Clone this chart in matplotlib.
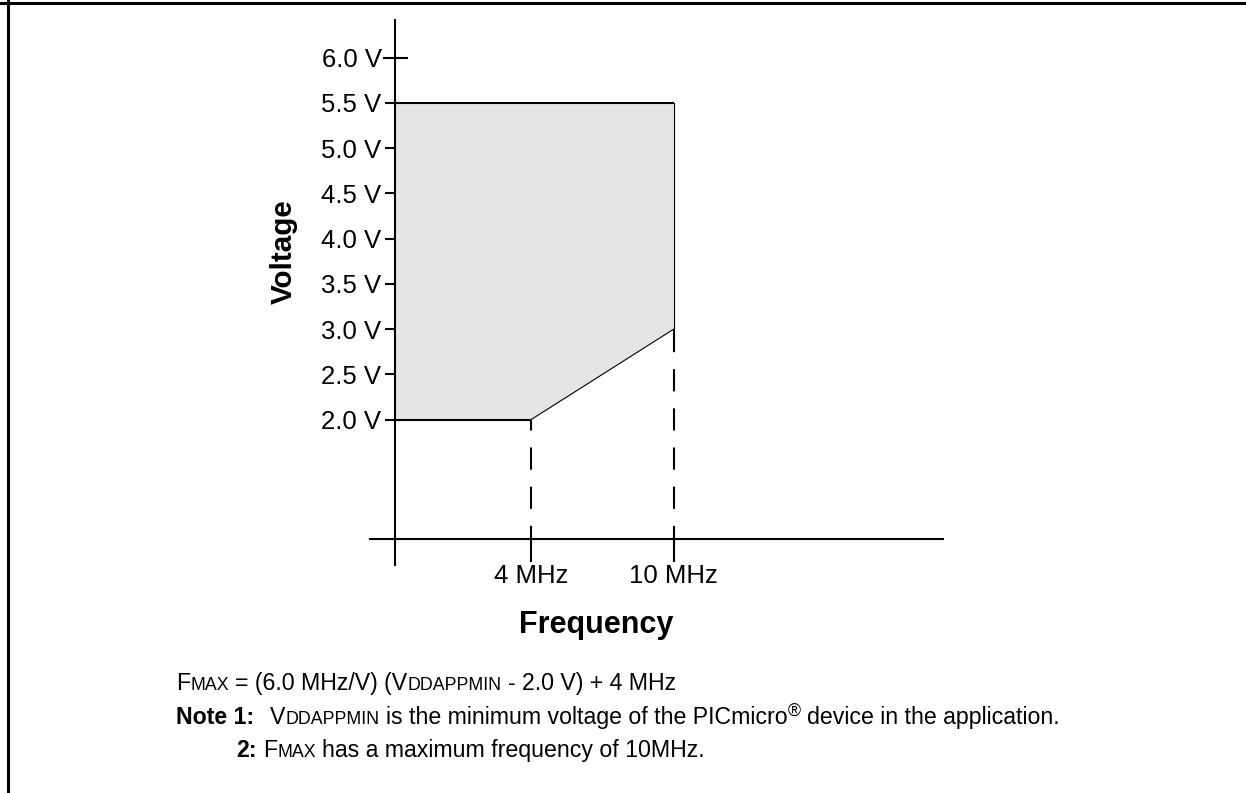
import matplotlib
matplotlib.use('Agg')
import matplotlib.pyplot as plt
from matplotlib.lines import Line2D

plt.rcParams['font.family'] = ['Liberation Sans', 'DejaVu Sans']
plt.rcParams['lines.scale_dashes'] = False

# DATA
freq_corners = [4, 10]          # MHz
vdd_min = [2.0, 3.0]            # lower edge of the operating area at those freqs
vdd_max = 5.5
volt_ticks = [2.0, 2.5, 3.0, 3.5, 4.0, 4.5, 5.0, 5.5]
volt_top_tick = 6.0
freq_labels = ['4 MHz', '10 MHz']

# layout (schematic chart, axes don't cross at 0)
W, H = 1246, 793
yax_x = -1.72       # freq where the voltage axis sits
xax_y = 0.676       # voltage where the freq axis sits

fig = plt.figure(figsize=(W / 100, H / 100), dpi=100)
ax = fig.add_axes([0, 0, 1, 1])
ax.set_xlim(-18.33, 34.07)
ax.set_ylim(-2.126, 6.638)
ax.patch.set_visible(False)

# operating area
poly_x = [yax_x, freq_corners[0], freq_corners[1], freq_corners[1], yax_x]
poly_y = [vdd_min[0], vdd_min[0], vdd_min[1], vdd_max, vdd_max]
ax.fill(poly_x, poly_y, color='#e5e5e5', lw=0, zorder=1)
ax.plot([yax_x, freq_corners[1]], [vdd_max, vdd_max], color='k', lw=1.5, solid_capstyle='butt')
ax.plot([yax_x, freq_corners[0]], [vdd_min[0], vdd_min[0]], color='k', lw=1.5, solid_capstyle='butt')
ax.plot(freq_corners, vdd_min, color='k', lw=0.8)
ax.plot([freq_corners[1], freq_corners[1]], [vdd_min[1], vdd_max], color='k', lw=0.8)
ax.vlines(freq_corners, xax_y, vdd_min, colors='k', lw=1.5, linestyles=[(6.5, (16, 12.2))])

# axes
for s in ['top', 'right']:
    ax.spines[s].set_visible(False)
ax.spines['left'].set_position(('data', yax_x))
ax.spines['left'].set_bounds(0.394, 6.417)
ax.spines['bottom'].set_position(('data', xax_y))
ax.spines['bottom'].set_bounds(-2.77, 21.33)
for s in ['left', 'bottom']:
    ax.spines[s].set_linewidth(1.5)

ax.set_yticks(volt_ticks, labels=['{:.1f} V'.format(v) for v in volt_ticks])
ax.set_yticks([volt_top_tick], labels=['{:.1f} V'.format(volt_top_tick)], minor=True)
ax.tick_params(axis='y', which='major', direction='out', length=7.2, width=1.5, pad=3, labelsize=18.5)
ax.tick_params(axis='y', which='minor', direction='inout', length=18, width=1.5, pad=0.5, labelsize=18.5)
ax.set_xticks(freq_corners, labels=freq_labels)
ax.tick_params(axis='x', direction='out', length=16.5, width=1.5, pad=1, labelsize=18.5)


def px(x, y):
    return x / W, 1 - y / H


fig.text(*px(284, 252), 'Voltage', rotation=90, ha='center', va='center',
         fontsize=21.3, fontweight='bold')
fig.text(*px(596, 633), 'Frequency', ha='center', va='baseline',
         fontsize=22, fontweight='bold')

# frame
fig.add_artist(Line2D([0, 1], [1 - 2.5 / H] * 2, transform=fig.transFigure, color='k', lw=2.2))
fig.add_artist(Line2D([7.5 / W] * 2, [0, 1], transform=fig.transFigure, color='k', lw=2.2))

# notes, pieced together because of the small caps
N, S = 16.7, 12.8
sp = 0.278 * N * 100 / 72
renderer = fig.canvas.get_renderer()


def run(x0, y0, pieces):
    x = x0
    for txt, size, weight, gap, rise in pieces:
        x += gap
        t = fig.text(*px(x, y0 - rise), txt, fontsize=size, fontweight=weight,
                     ha='left', va='baseline')
        x += t.get_window_extent(renderer).width


run(176, 690, [
    ('F', N, 'normal', 0, 0),
    ('MAX', S, 'normal', 0, 0),
    ('= (6.0 MHz/V) (V', N, 'normal', sp, 0),
    ('DDAPPMIN', S, 'normal', 0, 0),
    ('- 2.0 V) + 4 MHz', N, 'normal', sp, 0),
])
run(176, 724, [
    ('Note 1:', N, 'bold', 0, 0),
    ('V', N, 'normal', 2.5 * sp, 0),
    ('DDAPPMIN', S, 'normal', 0, 0),
    ('is the minimum voltage of the PICmicro', N, 'normal', sp, 0),
    ('\u00ae', S, 'normal', 0, 8),
    ('device in the application.', N, 'normal', sp, 0),
])
run(236, 757, [
    ('2:', N, 'bold', 0, 0),
    ('F', N, 'normal', sp, 0),
    ('MAX', S, 'normal', 0, 0),
    ('has a maximum frequency of 10MHz.', N, 'normal', sp, 0),
])

fig.savefig('out.png', dpi=100)
